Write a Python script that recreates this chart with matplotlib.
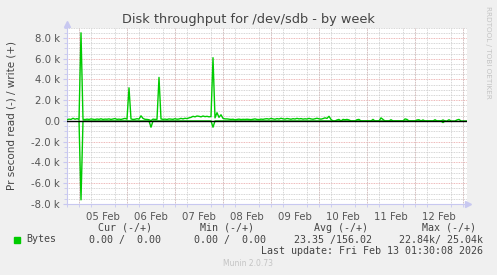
import matplotlib.pyplot as plt
from matplotlib.ticker import MultipleLocator, FixedLocator

# hours since Feb 4 18:00, one sample per hour (last sample at hour 200)
write_vals = [
    120, 180, 150, 260, 170, 230, 150, 8500, 160, 140,
    180, 150, 200, 170, 140, 190, 160, 210, 150, 180,
    170, 200, 150, 190, 230, 160, 180, 150, 200, 250,
    180, 3200, 200, 150, 170, 220, 180, 500, 250, 160,
    150, 120, 30, 180, 150, 170, 4200, 200, 160, 180,
    150, 200, 180, 160, 220, 170, 190, 250, 200, 260,
    230, 300, 350, 450, 400, 480, 450, 400, 480, 420,
    450, 400, 430, 6100, 300, 800, 350, 600, 250, 200,
    200, 180, 150, 170, 120, 150, 180, 140, 160, 150,
    170, 150, 130, 160, 200, 150, 140, 180, 160, 200,
    220, 180, 250, 200, 170, 230, 190, 260, 210, 180,
    240, 200, 170, 220, 190, 250, 200, 230, 180, 210,
    190, 250, 200, 170, 220, 260, 210, 180, 230, 300,
    250, 450, 150, 0, 0, 100, 150, 0, 150, 120,
    150, 100, 0, 0, 0, 120, 150, 0, 0, 0,
    0, 0, 0, 150, 0, 0, 0, 300, 150, 0,
    0, 0, 120, 0, 0, 0, 0, 0, 0, 200,
    150, 0, 0, 0, 0, 100, 120, 0, 100, 0,
    0, 0, 0, 0, 120, 0, 0, 0, 100, 0,
    0, 120, 0, 0, 0, 100, 150, 0, 0, 0,
    0,
]
read_hours = [6, 7, 8, 41, 42, 43, 72, 73, 74, 187, 188, 189]
read_vals = [0, 7600, 0, 0, 600, 0, 0, 600, 0, 0, 150, 0]

day_labels = ['05 Feb', '06 Feb', '07 Feb', '08 Feb', '09 Feb', '10 Feb', '11 Feb', '12 Feb']
ytick_vals = [-8000, -6000, -4000, -2000, 0, 2000, 4000, 6000, 8000]
ytick_labels = ['-8.0 k', '-6.0 k', '-4.0 k', '-2.0 k', '0.0', '2.0 k', '4.0 k', '6.0 k', '8.0 k']

legend_head = ['Cur (-/+)', 'Min (-/+)', 'Avg (-/+)', 'Max (-/+)']
legend_vals = ['0.00 /  0.00', '0.00 /  0.00', '23.35 /156.02', '22.84k/ 25.04k']

W, H = 497, 275
fig = plt.figure(figsize=(W / 100, H / 100), dpi=100, facecolor='#f0f0f0')
ax = fig.add_axes([67 / W, 1 - 204 / H, 400 / W, 176.4 / H], facecolor='white')

hours = list(range(len(write_vals)))
ax.plot(hours, write_vals, color='#00cc00', lw=1.0, zorder=3)
ax.plot(read_hours, [-v for v in read_vals], color='#00cc00', lw=1.0, zorder=3)
ax.axhline(0, color='black', lw=1.0, zorder=4)

ax.set_xlim(0, 200)
ax.set_ylim(-8000, 9000)

# grid: minor grey every 6h / 500, major red every day / 2000
day_starts = [6 + 24 * i for i in range(9)]
ax.xaxis.set_major_locator(FixedLocator([18 + 24 * i for i in range(len(day_labels))]))
ax.set_xticklabels(day_labels)
ax.xaxis.set_minor_locator(MultipleLocator(6))
ax.yaxis.set_major_locator(FixedLocator(ytick_vals))
ax.set_yticklabels(ytick_labels)
ax.yaxis.set_minor_locator(MultipleLocator(500))
ax.grid(which='minor', color='#c8c8c8', ls=(0, (1, 1)), lw=0.6)
for d in day_starts:
    ax.axvline(d, color='#e8a0a0', ls=(0, (1, 1)), lw=0.6, zorder=1.5)
for v in ytick_vals:
    ax.axhline(v, color='#e8a0a0', ls=(0, (1, 1)), lw=0.6, zorder=1.5)

for s in ['top', 'right']:
    ax.spines[s].set_visible(False)
for s in ['left', 'bottom']:
    ax.spines[s].set_color('#c8c8f0')
ax.tick_params(which='both', colors='#c8c8f0', labelcolor='#555555', labelsize=7.3)
ax.tick_params(axis='x', which='major', length=0, pad=6)
ax.tick_params(axis='x', which='minor', length=2)
ax.tick_params(axis='y', which='major', length=3, pad=2)
ax.tick_params(axis='y', which='minor', length=2)
ax.plot([200.5], [-8000], marker='>', color='#c8c8f0', ms=4, clip_on=False)
ax.plot([0], [9300], marker='^', color='#c8c8f0', ms=4, clip_on=False)

def ftext(x, y, s, **kw):
    fig.text(x / W, 1 - y / H, s, **kw)

ftext(248, 19, 'Disk throughput for /dev/sdb - by week', ha='center', va='center',
      fontsize=9.3, color='#444444')
ftext(12, 116, 'Pr second read (-) / write (+)', ha='center', va='center', rotation=90,
      fontsize=7.5, color='#444444')
ftext(488, 52, 'RRDTOOL / TOBI OETIKER', ha='center', va='center', rotation=270,
      fontsize=5.2, color='#c4c4c4')

mono = dict(family='DejaVu Sans Mono', fontsize=7.2, color='#444444', va='center')
head_x = [152, 254, 368, 476]
for x, s in zip(head_x, legend_head):
    ftext(x, 228, s, ha='right', **mono)
val_x = [161, 266, 372, 483]
for x, s in zip(val_x, legend_vals):
    ftext(x, 239.5, s, ha='right', **mono)
fig.patches.append(plt.Rectangle((14 / W, 1 - 243 / H), 6 / W, 6 / H,
                                 transform=fig.transFigure, color='#00cc00'))
ftext(26, 239.5, 'Bytes', ha='left', **mono)
ftext(483, 251, 'Last update: Fri Feb 13 01:30:08 2026', ha='right', **mono)
ftext(248, 264, 'Munin 2.0.73', ha='center', va='center', fontsize=5.5, color='#c4c4c4')

fig.savefig('out.png', dpi=100, facecolor=fig.get_facecolor())
